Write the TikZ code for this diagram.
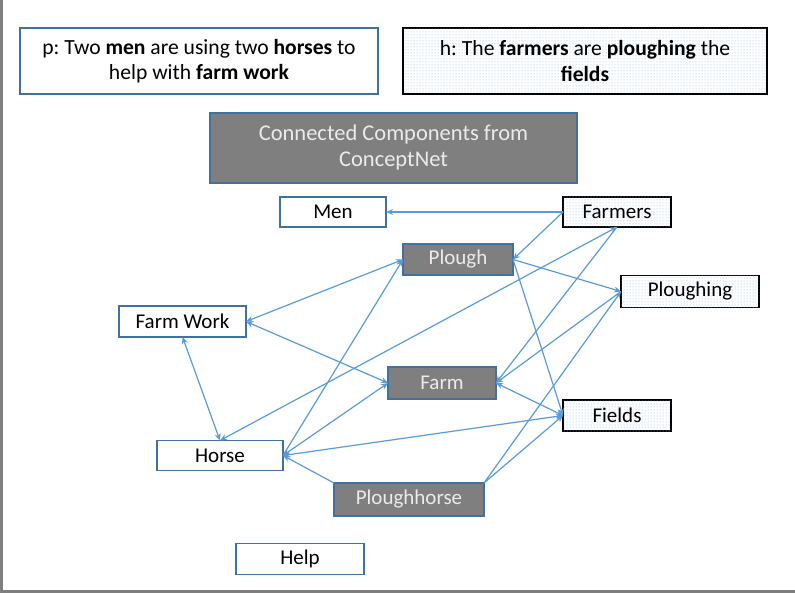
\documentclass[tikz,border=0pt]{standalone}
\usepackage{fontspec}
\setmainfont{Carlito}
\usetikzlibrary{arrows.meta,patterns}
\definecolor{bord}{HTML}{41719C}
\definecolor{edge}{HTML}{5B9BD5}
\definecolor{boxgray}{HTML}{7F7F7F}
\definecolor{dotblue}{RGB}{140,182,228}
\tikzset{
  base/.style={inner sep=0pt, outer sep=0pt, font=\fontsize{21}{25}\selectfont\frenchspacing, align=center},
  wbox/.style={base, draw=bord, line width=1.2pt, fill=white, text=black},
  gbox/.style={base, draw=bord, line width=1.2pt, fill=boxgray, text=black!8},
  dbox/.style={base, draw=black, line width=1.4pt, fill=white, text=black,
     postaction={pattern=dots, pattern color=dotblue}},
  topfont/.style={font=\fontsize{21.6}{25.5}\selectfont\frenchspacing},
  conn/.style={draw=edge, line width=1.2pt},
  tip/.tip={Stealth[length=7pt,width=6pt]}
}
\begin{document}
\begin{tikzpicture}[x=1pt,y=-1pt]
\useasboundingbox (0,0) rectangle (795,593);
\fill[white] (0,0) rectangle (795,593);
\fill[boxgray] (0,0) rectangle (3,593);
\fill[boxgray] (0,590) rectangle (795,593);

\node[wbox, topfont, minimum width=358pt, minimum height=66pt] (p) at (199,61)
  {p: Two \textbf{men} are using two \textbf{horses} to\\ help with \textbf{farm work}};
\node[dbox, topfont, minimum width=364pt, minimum height=66pt] (h) at (585,61)
  {h: The \textbf{farmers} are \textbf{ploughing} the\\ \textbf{fields}};
\node[gbox, font=\fontsize{22.5}{26}\selectfont, minimum width=367pt, minimum height=70pt] (cc) at (393.5,148)
  {Connected Components from\\ ConceptNet};

\node[wbox, minimum width=106pt, minimum height=30pt] (men) at (333,212) {Men};
\node[dbox, minimum width=108pt, minimum height=30pt] (farmers) at (617,212) {Farmers};
\node[gbox, minimum width=110pt, minimum height=31pt] (plough) at (458,259.5) {Plough};
\node[dbox, minimum width=138pt, minimum height=32pt] (ploughing) at (690,291.5) {Ploughing};
\node[wbox, minimum width=127pt, minimum height=31pt] (farmwork) at (182.5,321.5) {Farm Work};
\node[gbox, minimum width=108pt, minimum height=32pt] (farm) at (442,383) {Farm};
\node[dbox, minimum width=108pt, minimum height=31pt] (fields) at (617,415.5) {Fields};
\node[wbox, minimum width=126pt, minimum height=30pt] (horse) at (220,455.5) {Horse};
\node[gbox, minimum width=150pt, minimum height=33pt] (ph) at (409,499.5) {Ploughhorse};
\node[wbox, minimum width=128pt, minimum height=31pt] (help) at (300,559) {Help};

\path[conn,-tip] (farmers.west) -- (men.east);
\path[conn,-tip] (farmers.west) -- (plough.east);
\path[conn,-tip] (plough.east) -- (ploughing.west);
\path[conn,-tip] (plough.east) -- (fields.west);
\path[conn,tip-tip] (horse.north) -- (farmers.south);
\path[conn,-tip] (farmers.south) -- (farm.east);
\path[conn,-tip] (ploughing.west) -- (farm.east);
\path[conn,tip-tip] (farm.east) -- (fields.west);
\path[conn,tip-tip] (farmwork.east) -- (plough.west);
\path[conn,tip-tip] (farmwork.east) -- (farm.west);
\path[conn,tip-tip] (farmwork.south) -- (horse.north);
\path[conn,-tip] (horse.east) -- (plough.west);
\path[conn,tip-tip] (horse.east) -- (farm.west);
\path[conn,tip-tip] (horse.east) -- (fields.west);
\path[conn,-tip] (ph.north west) -- (horse.east);
\path[conn,-tip] (ph.north east) -- (ploughing.west);
\path[conn,-tip] (ph.north east) -- (fields.west);
\end{tikzpicture}
\end{document}
